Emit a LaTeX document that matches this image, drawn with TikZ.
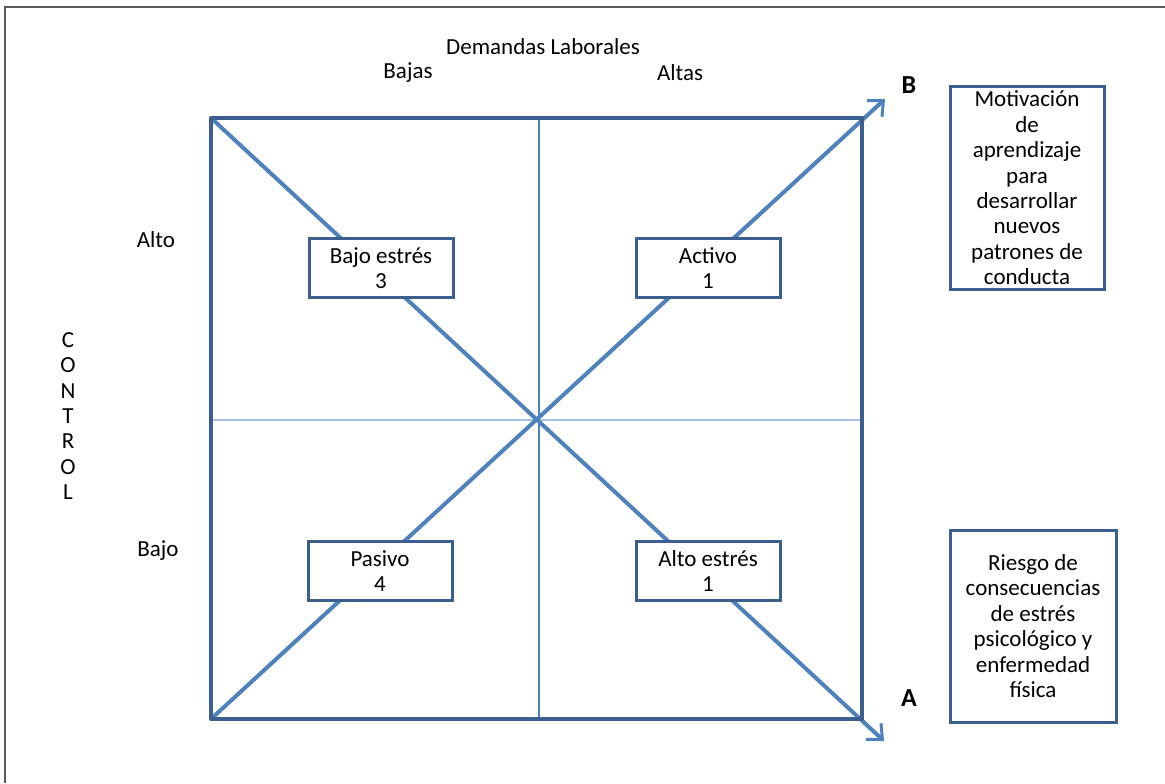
\documentclass[tikz,border=0pt]{standalone}
\usepackage{fontspec}
\setmainfont{Carlito}
\usetikzlibrary{arrows.meta}
\definecolor{boxblue}{HTML}{3B5F8E}
\definecolor{lineblue}{HTML}{4F81BD}
\definecolor{paleblue}{HTML}{A9C1E0}
\begin{document}
\begin{tikzpicture}[x=0.5pt,y=-0.5pt,font=\fontsize{11.5}{12.7}\selectfont,
  quad/.style={draw=boxblue, line width=1.5pt, fill=white, align=center, inner sep=0pt, minimum width=72pt, minimum height=29.5pt},
  note/.style={draw=boxblue, line width=1.5pt, fill=white, align=center, inner sep=0pt},
  diag/.style={draw=lineblue, line width=2pt, -{Straight Barb[length=6pt,width=11pt,line width=1.5pt]}}]
\useasboundingbox (0,0) rectangle (1165,783);
\draw[black!65, line width=1pt] (5,783) -- (5,7) -- (1165,7);
% quadrants
\coordinate (tl) at (211,118);
\coordinate (tr) at (862,118);
\coordinate (bl) at (211,719);
\coordinate (br) at (862,719);
\coordinate (endA) at (884,741);
\coordinate (endB) at (885,99);
\draw[lineblue, line width=0.6pt] (539,118) -- (539,719);
\draw[paleblue, line width=0.6pt] (211,420) -- (862,420);
\draw[diag] (tl) -- (endA);
\draw[diag] (bl) -- (endB);
\draw[boxblue, line width=2.2pt, line join=round] (tl) rectangle (br);
% cells
\node[quad] (bajoestres) at (381,268) {Bajo estrés\\3};
\node[quad] (activo) at (708,268) {Activo\\1};
\node[quad] (pasivo) at (380,571) {Pasivo\\4};
\node[quad] (altoestres) at (708,571) {Alto estrés\\1};
% axis labels
\node (demandas) at (543,47) {Demandas Laborales};
\node (bajas) at (408,73) {Bajas};
\node (altas) at (680,73) {Altas};
\node (alto) at (156,240) {Alto};
\node (bajo) at (158,551) {Bajo};
\node[align=center] (control) at (68,416) {C\\O\\N\\T\\R\\O\\L};
% outcomes
\node[font=\fontsize{13}{15}\selectfont\bfseries] (labB) at (909,85) {B};
\node[font=\fontsize{13}{15}\selectfont\bfseries] (labA) at (909,698) {A};
\node[note, minimum width=77pt, minimum height=101.5pt] (motiv) at (1027,188)
  {Motivación\\de\\aprendizaje\\para\\desarrollar\\nuevos\\patrones de\\conducta};
\node[note, minimum width=83pt, minimum height=96pt] (riesgo) at (1033,626)
  {Riesgo de\\consecuencias\\de estrés\\psicológico y\\enfermedad\\física};
\end{tikzpicture}
\end{document}
